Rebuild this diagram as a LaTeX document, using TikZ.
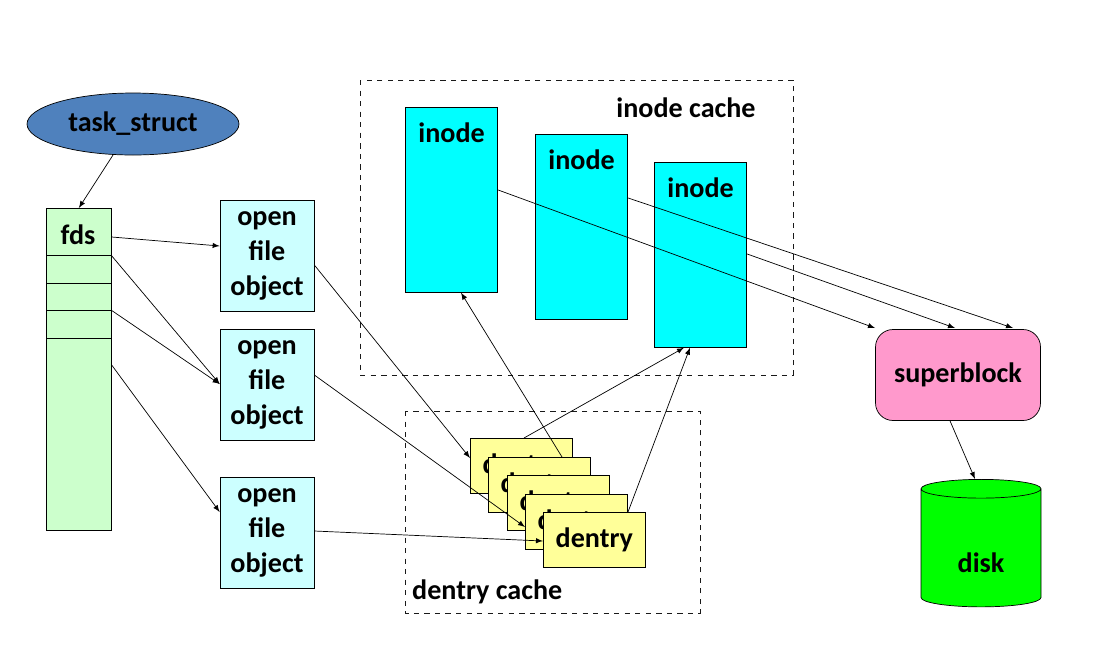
\documentclass[tikz,border=0pt]{standalone}
\usepackage{fontspec}
\setmainfont{Carlito}
\usetikzlibrary{shapes.geometric}
\definecolor{taskblue}{RGB}{79,129,189}
\definecolor{fdsgreen}{RGB}{204,255,204}
\definecolor{ofcyan}{RGB}{204,255,255}
\definecolor{inodecyan}{RGB}{0,255,255}
\definecolor{dentyellow}{RGB}{255,255,153}
\definecolor{sbpink}{RGB}{255,153,204}
\definecolor{diskgreen}{RGB}{0,255,0}

\tikzset{
	lbl/.style={font=\fontsize{16}{19}\selectfont\bfseries},
	ofile/.style={draw, fill=ofcyan, minimum width=1.88cm, minimum height=2.22cm, align=center, lbl, inner sep=0pt},
	inodebox/.style={draw, fill=inodecyan, minimum width=1.85cm, minimum height=3.7cm, anchor=north west},
	dentbox/.style={draw, fill=dentyellow, minimum width=2.04cm, minimum height=1.1cm, lbl, anchor=north west},
	cachebox/.style={draw, dashed, gray!20!black},
	arr/.style={-latex, thin}
}

\begin{document}
\begin{tikzpicture}[x=0.02cm, y=-0.02cm]
	\useasboundingbox (0,0) rectangle (1111,650);
	% task and fds
	\node[ellipse, draw, fill=taskblue, minimum width=4.24cm, minimum height=1.24cm, lbl] (task) at (133,124) {task\_struct};
	\node[draw, fill=fdsgreen, minimum width=1.3cm, minimum height=6.44cm, anchor=north west] (fds) at (46,208) {};
	\node[lbl, anchor=north] (fdslbl) at (78,219) {fds};
	\foreach \y/\n in {255/a, 283/b, 310/c, 338/d}
		\draw (46,\y) -- (111,\y) coordinate (row\n);
	% open file objects
	\node[ofile] (of1) at (267,256) {open\\[1pt]file\\[1pt]object};
	\node[ofile] (of2) at (267,385) {open\\[1pt]file\\[1pt]object};
	\node[ofile] (of3) at (267,533) {open\\[1pt]file\\[1pt]object};
	% inode cache
	\draw[cachebox] (360,80) rectangle (793,375);
	\node[lbl] (icache) at (686,108) {inode cache};
	\node[inodebox] (ino1) at (405,107) {};
	\node[inodebox] (ino2) at (535,134) {};
	\node[inodebox] (ino3) at (654,162) {};
	\foreach \i in {1,2,3}
		\node[lbl, anchor=north] at ([yshift=-0.2cm] ino\i.north) {inode};
	% superblock and disk
	\node[draw, rounded corners=0.35cm, fill=sbpink, minimum width=3.3cm, minimum height=1.82cm, lbl] (sb) at (958,375) {superblock};
	\node[cylinder, shape border rotate=90, aspect=1.6, draw, fill=diskgreen, minimum width=2.4cm, minimum height=2.55cm, lbl] (disk) at (981,550) {};
	\node[lbl] (disklbl) at (981,563) {disk};
	% dentry cache
	\draw[cachebox] (405,411) rectangle (700,613);
	\node[lbl, anchor=south west] (dcache) at (406,610) {dentry cache};
	\foreach \i/\x/\y in {1/470/438, 2/488/457, 3/507/475, 4/525/494, 5/543/512}
		\node[dentbox] (den\i) at (\x,\y) {dentry};
	% connectors
	\draw[arr] (ino1.east |- 0,190) -- (875,328);
	\draw[arr] (ino2.east |- 0,198) -- (1013,328);
	\draw[arr] (ino3.east |- 0,254) -- (955,328);
	\draw[arr] (task) -- (fds.north);
	\draw[arr] (fds.east |- 0,237) -- (of1.west |- 0,246);
	\draw[arr] (rowa) -- (of2.west |- 0,384);
	\draw[arr] (rowc) -- (of2.west |- 0,384);
	\draw[arr] (fds.east |- 0,365) -- (of3.west |- 0,512);
	\draw[arr] (of1.east |- 0,265) -- (den1.west |- 0,458);
	\draw[arr] (of2.east |- 0,375) -- (den4.west |- 0,527);
	\draw[arr] (of3.east |- 0,531) -- (den5.west |- 0,541);
	\draw[arr] (den2.north -| 562,0) -- (ino1.south -| 461,0);
	\draw[arr] (den1.north -| 524,0) -- (ino3.south -| 684,0);
	\draw[arr] (den5.north -| 628,0) -- (ino3.south -| 690,0);
	\draw[arr] (sb.south -| 950,0) -- (disk.north -| 975,0);
\end{tikzpicture}
\end{document}
